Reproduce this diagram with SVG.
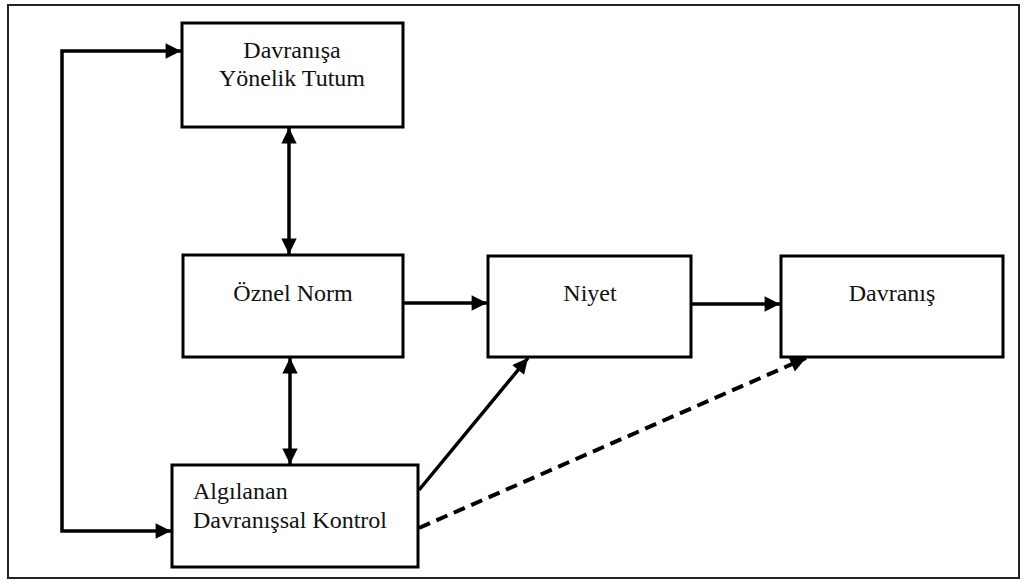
<svg xmlns="http://www.w3.org/2000/svg" width="1026" height="581" viewBox="0 0 1026 581">
<style>
.box{fill:#fff;stroke:#000;stroke-width:3}
.lbl{font-family:'Liberation Serif','Times New Roman',serif;font-size:24px;fill:#111}
.ln{fill:none;stroke:#000;stroke-width:3.5}
.dash{stroke-dasharray:12 7;stroke-width:4}
</style>
<defs>
<marker id="ah" viewBox="0 0 10 10" refX="10" refY="5" markerWidth="4.8" markerHeight="4.4" orient="auto-start-reverse" markerUnits="strokeWidth">
<path d="M0,0 L10,5 L0,10 z" fill="#000"/>
</marker>
<marker id="ahd" viewBox="0 0 10 10" refX="10" refY="5" markerWidth="4.2" markerHeight="3.9" orient="auto" markerUnits="strokeWidth">
<path d="M0,0 L10,5 L0,10 z" fill="#000"/>
</marker>
</defs>
<rect x="0" y="0" width="1026" height="581" fill="#fff"/>
<rect x="8" y="5" width="1011" height="573" fill="none" stroke="#222" stroke-width="2"/>
<g id="connectors">
<polyline class="ln" points="181,51 62,51 62,531 171,531" marker-start="url(#ah)" marker-end="url(#ah)"/>
<line class="ln" x1="289" y1="128" x2="289" y2="254" marker-start="url(#ah)" marker-end="url(#ah)"/>
<line class="ln" x1="290" y1="358" x2="290" y2="464" marker-start="url(#ah)" marker-end="url(#ah)"/>
<line class="ln" x1="404" y1="303" x2="487" y2="303" marker-end="url(#ah)"/>
<line class="ln" x1="692" y1="304" x2="780" y2="304" marker-end="url(#ah)"/>
<line class="ln" x1="419" y1="490" x2="528" y2="358" marker-end="url(#ah)"/>
<line class="ln dash" x1="419" y1="528" x2="806" y2="358" marker-end="url(#ahd)"/>
</g>
<g id="n1"><rect class="box" x="182" y="23" width="221" height="104"/>
<text class="lbl" x="292" y="58" text-anchor="middle">Davranışa</text>
<text class="lbl" x="292" y="86" text-anchor="middle">Yönelik Tutum</text></g>
<g id="n2"><rect class="box" x="183" y="255" width="220" height="102"/>
<text class="lbl" x="293" y="301" text-anchor="middle">Öznel Norm</text></g>
<g id="n3"><rect class="box" x="488" y="256" width="203" height="101"/>
<text class="lbl" x="590" y="301" text-anchor="middle">Niyet</text></g>
<g id="n4"><rect class="box" x="781" y="256" width="222" height="101"/>
<text class="lbl" x="892" y="301" text-anchor="middle">Davranış</text></g>
<g id="n5"><rect class="box" x="172" y="465" width="246" height="102"/>
<text class="lbl" x="193" y="499">Algılanan</text>
<text class="lbl" x="193" y="528">Davranışsal Kontrol</text></g>
</svg>
